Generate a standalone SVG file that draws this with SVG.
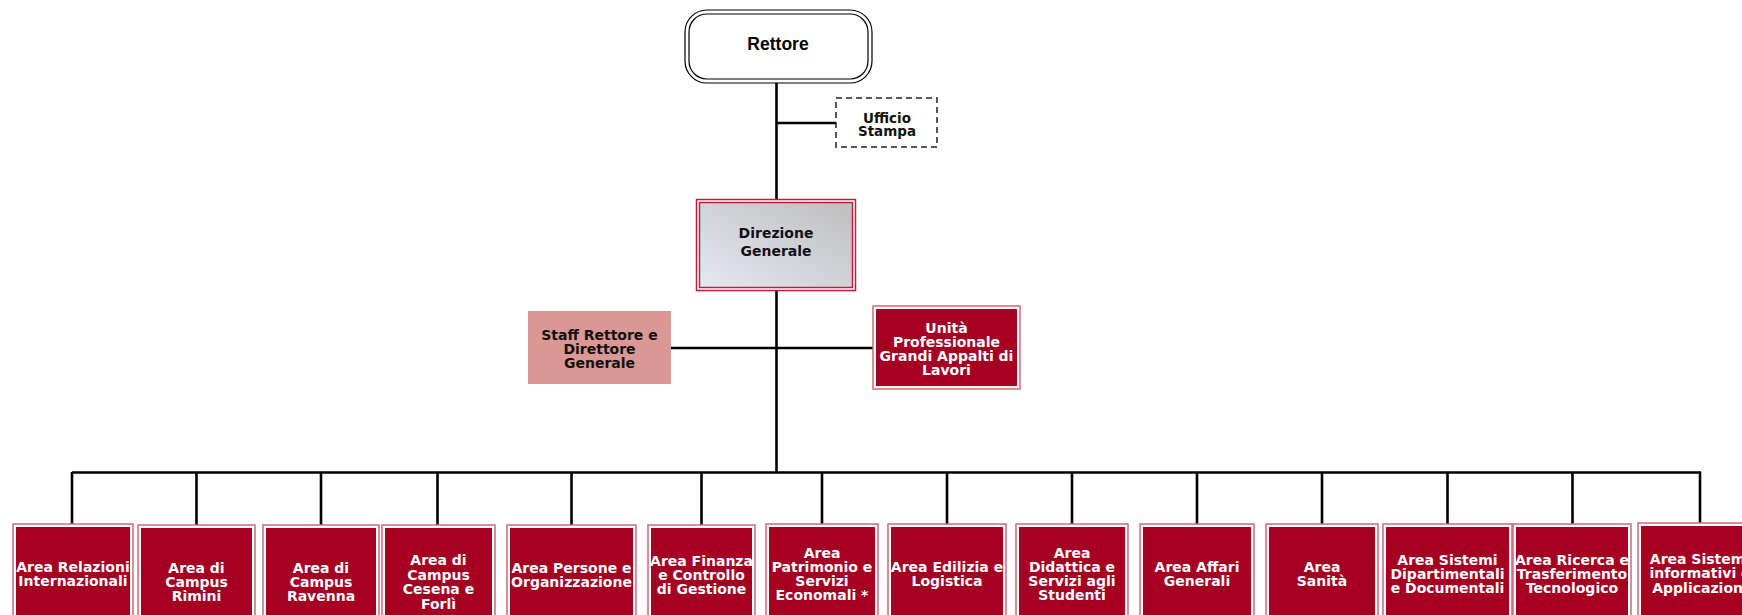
<svg xmlns="http://www.w3.org/2000/svg" width="1742" height="615" viewBox="0 0 1742 615">
<defs>
<linearGradient id="dg" x1="0" y1="1" x2="1" y2="0">
<stop offset="0" stop-color="#E4E8F2"/>
<stop offset="1" stop-color="#BEBEBE"/>
</linearGradient>
<style>
.ln{stroke:#000;stroke-width:2.6;fill:none}
.ob{fill:#fff;stroke:#CB6B7A;stroke-width:1.5}
.ib{fill:#A50021;stroke:#A50021;stroke-width:1}
.wt{font-family:"DejaVu Sans",Verdana,sans-serif;font-weight:bold;font-size:14px;fill:#fff;text-anchor:middle}
.bt{font-family:"DejaVu Sans",Verdana,sans-serif;font-weight:bold;font-size:14px;fill:#111;text-anchor:middle}
</style>
</defs>
<rect width="1742" height="615" fill="#fff"/>
<g id="connectors">
<path class="ln" d="M776.5 83V199M776.5 123H836M776.5 291V473M671 348H873M72 472.5H1701"/>
<path class="ln" d="M72 472V524M196.5 472V525M321 472V525M437.5 472V525M571.5 472V525M701.5 472V525M822 472V525M947 472V525M1072 472V525M1197 472V525M1322 472V525M1447.5 472V525M1572.5 472V525M1700 472V523"/>
</g>
<g id="rettore">
<rect x="685" y="10" width="187" height="73" rx="22" fill="#fff" stroke="#000" stroke-width="1.2"/>
<rect x="689" y="14" width="179" height="65" rx="18" fill="#fff" stroke="#000" stroke-width="1.2"/>
<text x="778" y="50" font-family="Liberation Sans,Arial,sans-serif" font-weight="bold" font-size="17.5" text-anchor="middle" fill="#000">Rettore</text>
</g>
<g id="ufficio-stampa">
<rect x="836" y="98" width="101" height="49" fill="#fff" stroke="#222" stroke-width="1.5" stroke-dasharray="6 4"/>
<text class="bt" style="font-size:13.5px" x="887"><tspan x="887" y="123">Ufficio</tspan><tspan x="887" y="136">Stampa</tspan></text>
</g>
<g id="direzione-generale">
<rect x="696.5" y="199.5" width="159" height="91" fill="#fff" stroke="#B5243E" stroke-width="1.5"/>
<rect x="699.5" y="202.5" width="153" height="85" fill="url(#dg)" stroke="#B5243E" stroke-width="1.5"/>
<text class="bt"><tspan x="776" y="238">Direzione</tspan><tspan x="776" y="256">Generale</tspan></text>
</g>
<g id="staff">
<rect x="528" y="311" width="143" height="73" fill="#DA9794"/>
<text class="bt"><tspan x="599.5" y="340">Staff Rettore e</tspan><tspan x="599.5" y="354">Direttore</tspan><tspan x="599.5" y="368">Generale</tspan></text>
</g>
<g id="unita-grandi-appalti">
<rect class="ob" x="873" y="306" width="147" height="83"/>
<rect class="ib" x="876.5" y="309.5" width="140" height="76"/>
<text class="wt"><tspan x="946.5" y="333">Unità</tspan><tspan x="946.5" y="347">Professionale</tspan><tspan x="946.5" y="361">Grandi Appalti di</tspan><tspan x="946.5" y="375">Lavori</tspan></text>
</g>
<g id="area-relazioni-internazionali">
<rect class="ob" x="13" y="524" width="120" height="110"/><rect class="ib" x="16.5" y="527.5" width="113" height="110"/>
<text class="wt"><tspan x="73" y="572">Area Relazioni</tspan><tspan x="73" y="586">Internazionali</tspan></text>
</g>
<g id="area-campus-rimini">
<rect class="ob" x="138" y="525" width="117" height="110"/><rect class="ib" x="141.5" y="528.5" width="110" height="110"/>
<text class="wt"><tspan x="196.5" y="573">Area di</tspan><tspan x="196.5" y="587">Campus</tspan><tspan x="196.5" y="601">Rimini</tspan></text>
</g>
<g id="area-campus-ravenna">
<rect class="ob" x="263" y="525" width="116" height="110"/><rect class="ib" x="266.5" y="528.5" width="109" height="110"/>
<text class="wt"><tspan x="321" y="573">Area di</tspan><tspan x="321" y="587">Campus</tspan><tspan x="321" y="601">Ravenna</tspan></text>
</g>
<g id="area-campus-cesena-forli">
<rect class="ob" x="382" y="525" width="113" height="110"/><rect class="ib" x="385.5" y="528.5" width="106" height="110"/>
<text class="wt"><tspan x="438.5" y="565">Area di</tspan><tspan x="438.5" y="580">Campus</tspan><tspan x="438.5" y="594">Cesena e</tspan><tspan x="438.5" y="609">Forlì</tspan></text>
</g>
<g id="area-persone-organizzazione">
<rect class="ob" x="507" y="525" width="129" height="110"/><rect class="ib" x="510.5" y="528.5" width="122" height="110"/>
<text class="wt"><tspan x="571.5" y="573">Area Persone e</tspan><tspan x="571.5" y="587">Organizzazione</tspan></text>
</g>
<g id="area-finanza">
<rect class="ob" x="648" y="525" width="107" height="110"/><rect class="ib" x="651.5" y="528.5" width="100" height="110"/>
<text class="wt"><tspan x="701.5" y="566">Area Finanza</tspan><tspan x="701.5" y="580">e Controllo</tspan><tspan x="701.5" y="594">di Gestione</tspan></text>
</g>
<g id="area-patrimonio">
<rect class="ob" x="766" y="524" width="112" height="110"/><rect class="ib" x="769.5" y="527.5" width="105" height="110"/>
<text class="wt"><tspan x="822" y="558">Area</tspan><tspan x="822" y="572">Patrimonio e</tspan><tspan x="822" y="586">Servizi</tspan><tspan x="822" y="600">Economali *</tspan></text>
</g>
<g id="area-edilizia">
<rect class="ob" x="888" y="524" width="118" height="110"/><rect class="ib" x="891.5" y="527.5" width="111" height="110"/>
<text class="wt"><tspan x="947" y="572">Area Edilizia e</tspan><tspan x="947" y="586">Logistica</tspan></text>
</g>
<g id="area-didattica">
<rect class="ob" x="1016" y="524" width="112" height="110"/><rect class="ib" x="1019.5" y="527.5" width="105" height="110"/>
<text class="wt"><tspan x="1072" y="558">Area</tspan><tspan x="1072" y="572">Didattica e</tspan><tspan x="1072" y="586">Servizi agli</tspan><tspan x="1072" y="600">Studenti</tspan></text>
</g>
<g id="area-affari-generali">
<rect class="ob" x="1140" y="524" width="114" height="110"/><rect class="ib" x="1143.5" y="527.5" width="107" height="110"/>
<text class="wt"><tspan x="1197" y="572">Area Affari</tspan><tspan x="1197" y="586">Generali</tspan></text>
</g>
<g id="area-sanita">
<rect class="ob" x="1266" y="524" width="112" height="110"/><rect class="ib" x="1269.5" y="527.5" width="105" height="110"/>
<text class="wt"><tspan x="1322" y="572">Area</tspan><tspan x="1322" y="586">Sanità</tspan></text>
</g>
<g id="area-sistemi-dipartimentali">
<rect class="ob" x="1383" y="524" width="129" height="110"/><rect class="ib" x="1386.5" y="527.5" width="122" height="110"/>
<text class="wt"><tspan x="1447.5" y="565">Area Sistemi</tspan><tspan x="1447.5" y="579">Dipartimentali</tspan><tspan x="1447.5" y="593">e Documentali</tspan></text>
</g>
<g id="area-ricerca">
<rect class="ob" x="1513" y="524" width="118" height="110"/><rect class="ib" x="1516.5" y="527.5" width="111" height="110"/>
<text class="wt"><tspan x="1572" y="565">Area Ricerca e</tspan><tspan x="1572" y="579">Trasferimento</tspan><tspan x="1572" y="593">Tecnologico</tspan></text>
</g>
<g id="area-sistemi-informativi">
<rect class="ob" x="1638" y="523" width="124" height="110"/><rect class="ib" x="1641.5" y="526.5" width="117" height="110"/>
<text class="wt"><tspan x="1700" y="564">Area Sistemi</tspan><tspan x="1700" y="578">informativi e</tspan><tspan x="1700" y="593">Applicazioni</tspan></text>
</g>
</svg>
